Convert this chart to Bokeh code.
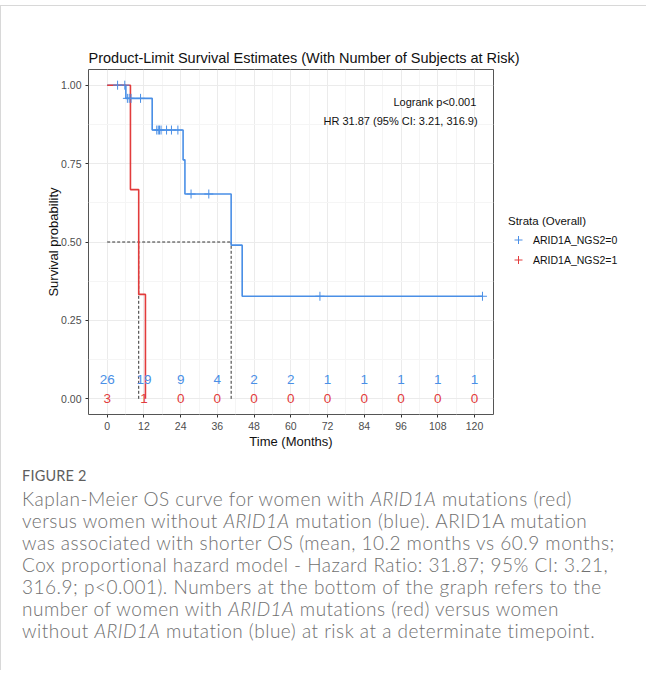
from bokeh.plotting import figure
from bokeh.models import (FixedTicker, Legend, LegendItem, Label, Div, PrintfTickFormatter)
from bokeh.layouts import column
from bokeh.embed import file_html
from bokeh.resources import INLINE
from bokeh.core.properties import value

# ---------------- data ----------------
blue_time = [0, 6.1, 14.7, 24.8, 25.4, 40.5, 44.1, 122.6]
blue_surv = [1.0, 0.958, 0.857, 0.762, 0.653, 0.490, 0.327, 0.327]
red_time = [0, 7.6, 10.3, 12.5]
red_surv = [1.0, 0.667, 0.333, 0.0]

blue_censor_time = [3.4, 5.75, 6.6, 7.2, 7.8, 10.9, 16.2, 16.7, 17.1, 17.6,
                    19.4, 21.0, 23.1, 27.4, 33.2, 69.5, 122.6]
red_censor_time = []

median_time = [10.3, 40.5]
median_level = 0.5

risk_times = [0, 12, 24, 36, 48, 60, 72, 84, 96, 108, 120]
risk_blue = [26, 19, 9, 4, 2, 2, 1, 1, 1, 1, 1]
risk_red = [3, 1, 0, 0, 0, 0, 0, 0, 0, 0, 0]

group_labels = ["ARID1A_NGS2=0", "ARID1A_NGS2=1"]
legend_title = "Strata (Overall)"
x_ticks = list(range(0, 121, 12))
y_ticks = [0, 0.25, 0.5, 0.75, 1.0]

BLUE = "#4a8fe6"
RED = "#e23c3c"
FONT = "Liberation Sans"


def surv_at(times, survs, t):
    s = survs[0]
    for ti, si in zip(times, survs):
        if ti <= t:
            s = si
    return s


blue_censor_surv = [surv_at(blue_time, blue_surv, t) for t in blue_censor_time]
red_censor_surv = [surv_at(red_time, red_surv, t) for t in red_censor_time]

# ---------------- figure ----------------
p = figure(frame_width=405, frame_height=345,
           x_range=(-6.1, 126.2), y_range=(-0.05, 1.05),
           output_backend="svg", toolbar_location=None,
           min_border_left=87, min_border_top=63, min_border_bottom=41,
           min_border_right=5)
p.background_fill_color = "white"
p.border_fill_color = "white"
p.outline_line_color = "#555555"
p.outline_line_width = 1

p.title.text = "Product-Limit Survival Estimates (With Number of Subjects at Risk)"
p.title.align = "left"
p.title.text_font = FONT
p.title.text_font_size = "14.5px"
p.title.text_font_style = "normal"
p.title.text_color = "#111111"
p.title.standoff = 8

xt = FixedTicker(ticks=x_ticks, minor_ticks=[t + 6 for t in x_ticks[:-1]])
yt = FixedTicker(ticks=y_ticks, minor_ticks=[0.125, 0.375, 0.625, 0.875])
p.xaxis.ticker = xt
p.yaxis.ticker = yt
p.xgrid.ticker = xt
p.ygrid.ticker = yt
p.yaxis.formatter = PrintfTickFormatter(format="%.2f")

for g in (p.xgrid, p.ygrid):
    g.grid_line_color = "#ebebeb"
    g.grid_line_width = 1
    g.minor_grid_line_color = "#f5f5f5"
    g.minor_grid_line_width = 1

for ax in (p.xaxis, p.yaxis):
    ax.axis_line_color = None
    ax.major_tick_line_color = "#333333"
    ax.major_tick_out = 3
    ax.major_tick_in = 0
    ax.minor_tick_line_color = None
    ax.major_label_text_font = FONT
    ax.major_label_text_font_size = "10.5px"
    ax.major_label_text_color = "#4d4d4d"
    ax.axis_label_text_font = FONT
    ax.axis_label_text_font_size = "13px"
    ax.axis_label_text_font_style = "normal"
    ax.axis_label_text_color = "#111111"

p.xaxis.axis_label = "Time (Months)"
p.yaxis.axis_label = "Survival probability"
p.xaxis.major_label_standoff = 3
p.yaxis.major_label_standoff = 3
p.xaxis.axis_label_standoff = 1
p.yaxis.axis_label_standoff = -3

# median lines
p.line(x=[0, median_time[1]], y=[median_level, median_level], line_color="#333333",
       line_dash="3 2", line_width=1)
for mt in median_time:
    p.line(x=[mt, mt], y=[0, median_level], line_color="#333333", line_dash="3 2", line_width=1)

# survival curves
p.step(x=blue_time, y=blue_surv, mode="after", line_color=BLUE, line_width=1.6)
p.step(x=red_time, y=red_surv, mode="after", line_color=RED, line_width=1.6)

bc = p.scatter(x=blue_censor_time, y=blue_censor_surv, marker="cross", size=9,
               line_color=BLUE, line_width=1)
p.scatter(x=red_censor_time, y=red_censor_surv, marker="cross", size=9,
          line_color=RED, line_width=1)
# legend key for the red group: zero-size crosses on the red curve (invisible in the panel)
rkey = p.scatter(x=red_time, y=red_surv, marker="cross", size=0,
                 line_color=RED, line_width=1)

# numbers at risk
p.text(x=risk_times, y=[0.062] * len(risk_times), text=[str(v) for v in risk_blue],
       text_color=BLUE, text_font=value(FONT), text_font_size="13.5px",
       text_align="center", text_baseline="middle")
p.text(x=risk_times, y=[0.0] * len(risk_times), text=[str(v) for v in risk_red],
       text_color=RED, text_font=value(FONT), text_font_size="13.5px",
       text_align="center", text_baseline="middle")

# annotations
p.add_layout(Label(x=120.6, y=0.945, text="Logrank p<0.001", text_align="right",
                   text_baseline="middle", text_font=FONT, text_font_size="11px",
                   text_color="#111111"))
p.add_layout(Label(x=121.0, y=0.887, text="HR 31.87 (95% CI: 3.21, 316.9)", text_align="right",
                   text_baseline="middle", text_font=FONT, text_font_size="11px",
                   text_color="#111111"))

# legend on the right of the panel
legend = Legend(items=[LegendItem(label=group_labels[0], renderers=[bc]),
                       LegendItem(label=group_labels[1], renderers=[rkey])],
                title=legend_title, location="center_left")
legend.title_text_font = FONT
legend.title_text_font_size = "11.5px"
legend.title_text_font_style = "normal"
legend.title_text_color = "#111111"
legend.title_standoff = 3
legend.label_text_font = FONT
legend.label_text_font_size = "10.5px"
legend.label_text_color = "#111111"
legend.label_standoff = 5
legend.glyph_width = 20
legend.glyph_height = 20
legend.label_height = 20
legend.spacing = -4
legend.padding = 4
legend.margin = 15
legend.border_line_color = None
legend.background_fill_alpha = 0
p.add_layout(legend, "right")

caption = Div(width=628, height=205, text=(
    '<div style="font-family:Lato, \'Open Sans\', sans-serif;color:#707070;padding-left:16px;'
    'white-space:nowrap;">'
    '<div style="font-size:14.5px;line-height:18px;margin-top:7px;color:#5e5e5e;letter-spacing:0.2px;">FIGURE 2</div>'
    '<div style="font-size:19px;line-height:22px;margin-top:3px;font-weight:300;letter-spacing:0.5px;">'
    'Kaplan-Meier OS curve for women with <i>ARID1A</i> mutations (red)<br>'
    'versus women without <i>ARID1A</i> mutation (blue). ARID1A mutation<br>'
    'was associated with shorter OS (mean, 10.2 months vs 60.9 months;<br>'
    'Cox proportional hazard model - Hazard Ratio: 31.87; 95% CI: 3.21,<br>'
    '316.9; p&lt;0.001). Numbers at the bottom of the graph refers to the<br>'
    'number of women with <i>ARID1A</i> mutations (red) versus women<br>'
    'without <i>ARID1A</i> mutation (blue) at risk at a determinate timepoint.'
    '</div></div>'))

layout = column(p, caption, margin=(5, 0, 0, 0),
                styles={"border-top": "1px solid #d8d8d8", "border-left": "1px solid #d8d8d8"})

open("out.html", "w").write(file_html(layout, INLINE))
